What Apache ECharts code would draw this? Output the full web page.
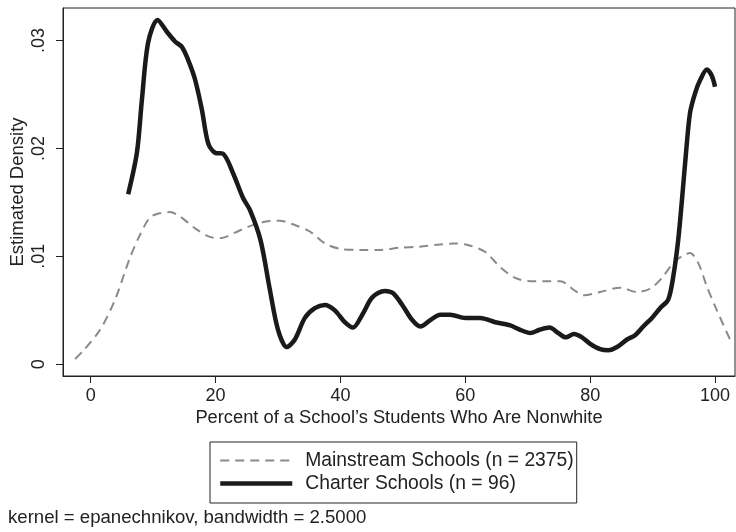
<!DOCTYPE html>
<html>
<head>
<meta charset="utf-8">
<script src="https://cdn.jsdelivr.net/npm/echarts@6/dist/echarts.min.js"></script>
<style>
html,body{margin:0;padding:0;background:#fff;}
#chart{width:736px;height:532px;}
</style>
</head>
<body>
<div id="chart"></div>
<script>
// Charter schools density (black solid)
const charterX = [6.0, 7.4, 8.2, 9.2, 10.7, 12.2, 13.5, 14.6, 15.6, 16.7, 17.8, 18.8, 19.9, 21.2, 22.8, 24.4, 25.5, 27.2, 28.7, 30.0, 31.4, 32.7, 34.3, 35.9, 37.5, 39.1, 40.7, 42.0, 43.5, 45.1, 47.1, 48.4, 49.9, 51.5, 52.8, 54.4, 56.0, 57.6, 60.0, 62.4, 64.8, 67.2, 68.8, 70.4, 71.9, 73.5, 74.9, 76.1, 77.4, 78.7, 80.0, 81.6, 82.9, 84.3, 85.9, 87.2, 88.5, 89.9, 91.2, 92.5, 93.3, 94.1, 94.7, 95.4, 96.0, 96.8, 97.6, 98.7, 99.5, 100.0];
const charterY = [0.01575, 0.0196, 0.0245, 0.0298, 0.0319, 0.0308, 0.0299, 0.0294, 0.0282, 0.0264, 0.0236, 0.0205, 0.0196, 0.0195, 0.0177, 0.0154, 0.0143, 0.0115, 0.0069, 0.0032, 0.0016, 0.0023, 0.0043, 0.0052, 0.0055, 0.0050, 0.0039, 0.0034, 0.0046, 0.0062, 0.0068, 0.0066, 0.0055, 0.0041, 0.0035, 0.0041, 0.0046, 0.0046, 0.0043, 0.0043, 0.0039, 0.0036, 0.0032, 0.0029, 0.0032, 0.0034, 0.0029, 0.0025, 0.0028, 0.0025, 0.0019, 0.0014, 0.0013, 0.0016, 0.0023, 0.0027, 0.0035, 0.0043, 0.0052, 0.0060, 0.0081, 0.0115, 0.0152, 0.0199, 0.0233, 0.0251, 0.0263, 0.0273, 0.0267, 0.0257];

// Mainstream schools density (grey dashed)
const mainX = [-2.5, -1.3, 1.5, 3.9, 6.3, 7.9, 9.5, 11.1, 12.7, 14.3, 16.7, 19.1, 21.0, 23.1, 25.5, 27.9, 30.3, 32.7, 35.1, 37.5, 39.9, 43.1, 46.3, 49.5, 52.7, 55.9, 58.3, 60.7, 63.2, 65.6, 68.0, 70.4, 72.8, 75.2, 77.6, 79.0, 81.6, 84.8, 87.5, 89.6, 91.5, 93.3, 94.7, 96.0, 97.3, 98.7, 100.3, 102.4];
const mainY = [0.0005, 0.0012, 0.0032, 0.0060, 0.0099, 0.0120, 0.0136, 0.0140, 0.0141, 0.0137, 0.0126, 0.0118, 0.0117, 0.0122, 0.0128, 0.0132, 0.0133, 0.0129, 0.0123, 0.0112, 0.0107, 0.0106, 0.0106, 0.0108, 0.0109, 0.0111, 0.0112, 0.0110, 0.0104, 0.0090, 0.0080, 0.0077, 0.0077, 0.0077, 0.0068, 0.0064, 0.0067, 0.0071, 0.0067, 0.0070, 0.0080, 0.0094, 0.0100, 0.0103, 0.0094, 0.0072, 0.0050, 0.0023];

const xTicks = [0, 20, 40, 60, 80, 100];
const yTicks = [0, 0.01, 0.02, 0.03];

const seriesNames = ['Mainstream Schools (n = 2375)', 'Charter Schools (n = 96)'];
const xTitle = 'Percent of a School\u2019s Students Who Are Nonwhite';
const yTitle = 'Estimated Density';
const note = 'kernel = epanechnikov, bandwidth = 2.5000';

const FONT = 'Liberation Sans, Arial, Helvetica, sans-serif';
const chart = echarts.init(document.getElementById('chart'), null, {renderer: 'canvas'});

function pairs(xs, ys) { return xs.map((x, i) => [x, ys[i]]); }

chart.setOption({
  animation: false,
  backgroundColor: '#fff',
  textStyle: {fontFamily: FONT},
  grid: {left: 63, right: 1, top: 8, bottom: 156, containLabel: false, outerBoundsMode: 'none',
    show: true, borderColor: '#222', borderWidth: 1, backgroundColor: '#fff'},
  xAxis: {
    type: 'value', min: -4.44, max: 103.2,
    name: xTitle, nameLocation: 'middle', nameGap: 33, nameMoveOverlap: false,
    nameTextStyle: {fontSize: 18.3, color: '#222', fontFamily: FONT},
    axisLine: {show: true, onZero: false, lineStyle: {color: '#222', width: 1}},
    axisTick: {show: true, inside: false, length: 7, lineStyle: {color: '#222'}, customValues: xTicks},
    axisLabel: {show: true, margin: 11, fontSize: 18, color: '#222', fontFamily: FONT, customValues: xTicks},
    splitLine: {show: false}
  },
  yAxis: {
    type: 'value', min: -0.00108, max: 0.0330,
    name: yTitle, nameLocation: 'middle', nameGap: 36, nameRotate: 90, nameMoveOverlap: false,
    nameTextStyle: {fontSize: 18.5, color: '#222', fontFamily: FONT},
    axisLine: {show: true, onZero: false, lineStyle: {color: '#222', width: 1}},
    axisTick: {show: true, inside: false, length: 7, lineStyle: {color: '#222'}, customValues: yTicks},
    axisLabel: {show: true, rotate: 90, margin: 15, fontSize: 18, color: '#222', fontFamily: FONT, customValues: yTicks,
      formatter: v => v === 0 ? '0' : v.toFixed(2).replace(/^0/, '')},
    splitLine: {show: false}
  },
  legend: {
    left: 210, top: 442, orient: 'vertical',
    data: [
      {name: seriesNames[0], itemStyle: {opacity: 0}, lineStyle: {width: 2}},
      {name: seriesNames[1], itemStyle: {opacity: 0}, lineStyle: {width: 4.5}}
    ],
    itemWidth: 72, itemHeight: 14, itemGap: 4,
    padding: [9, 3, 10, 8],
    borderColor: '#222', borderWidth: 1,
    textStyle: {fontSize: 19.3, color: '#222', fontFamily: FONT, padding: [0, 0, 0, 8]}
  },
  graphic: [{
    type: 'text', left: 8, top: 508,
    style: {text: note, fontSize: 18.6, fill: '#222', fontFamily: FONT}
  }],
  series: [
    {
      name: seriesNames[0], type: 'line', data: pairs(mainX, mainY),
      symbol: 'none', smooth: 0.3,
      lineStyle: {color: '#8a8a8a', width: 2, type: [9, 6]},
      itemStyle: {color: '#8a8a8a'}
    },
    {
      name: seriesNames[1], type: 'line', data: pairs(charterX, charterY),
      symbol: 'none', smooth: 0.3,
      lineStyle: {color: '#1a1a1a', width: 4.5},
      itemStyle: {color: '#1a1a1a'}
    }
  ]
});
</script>
</body>
</html>
